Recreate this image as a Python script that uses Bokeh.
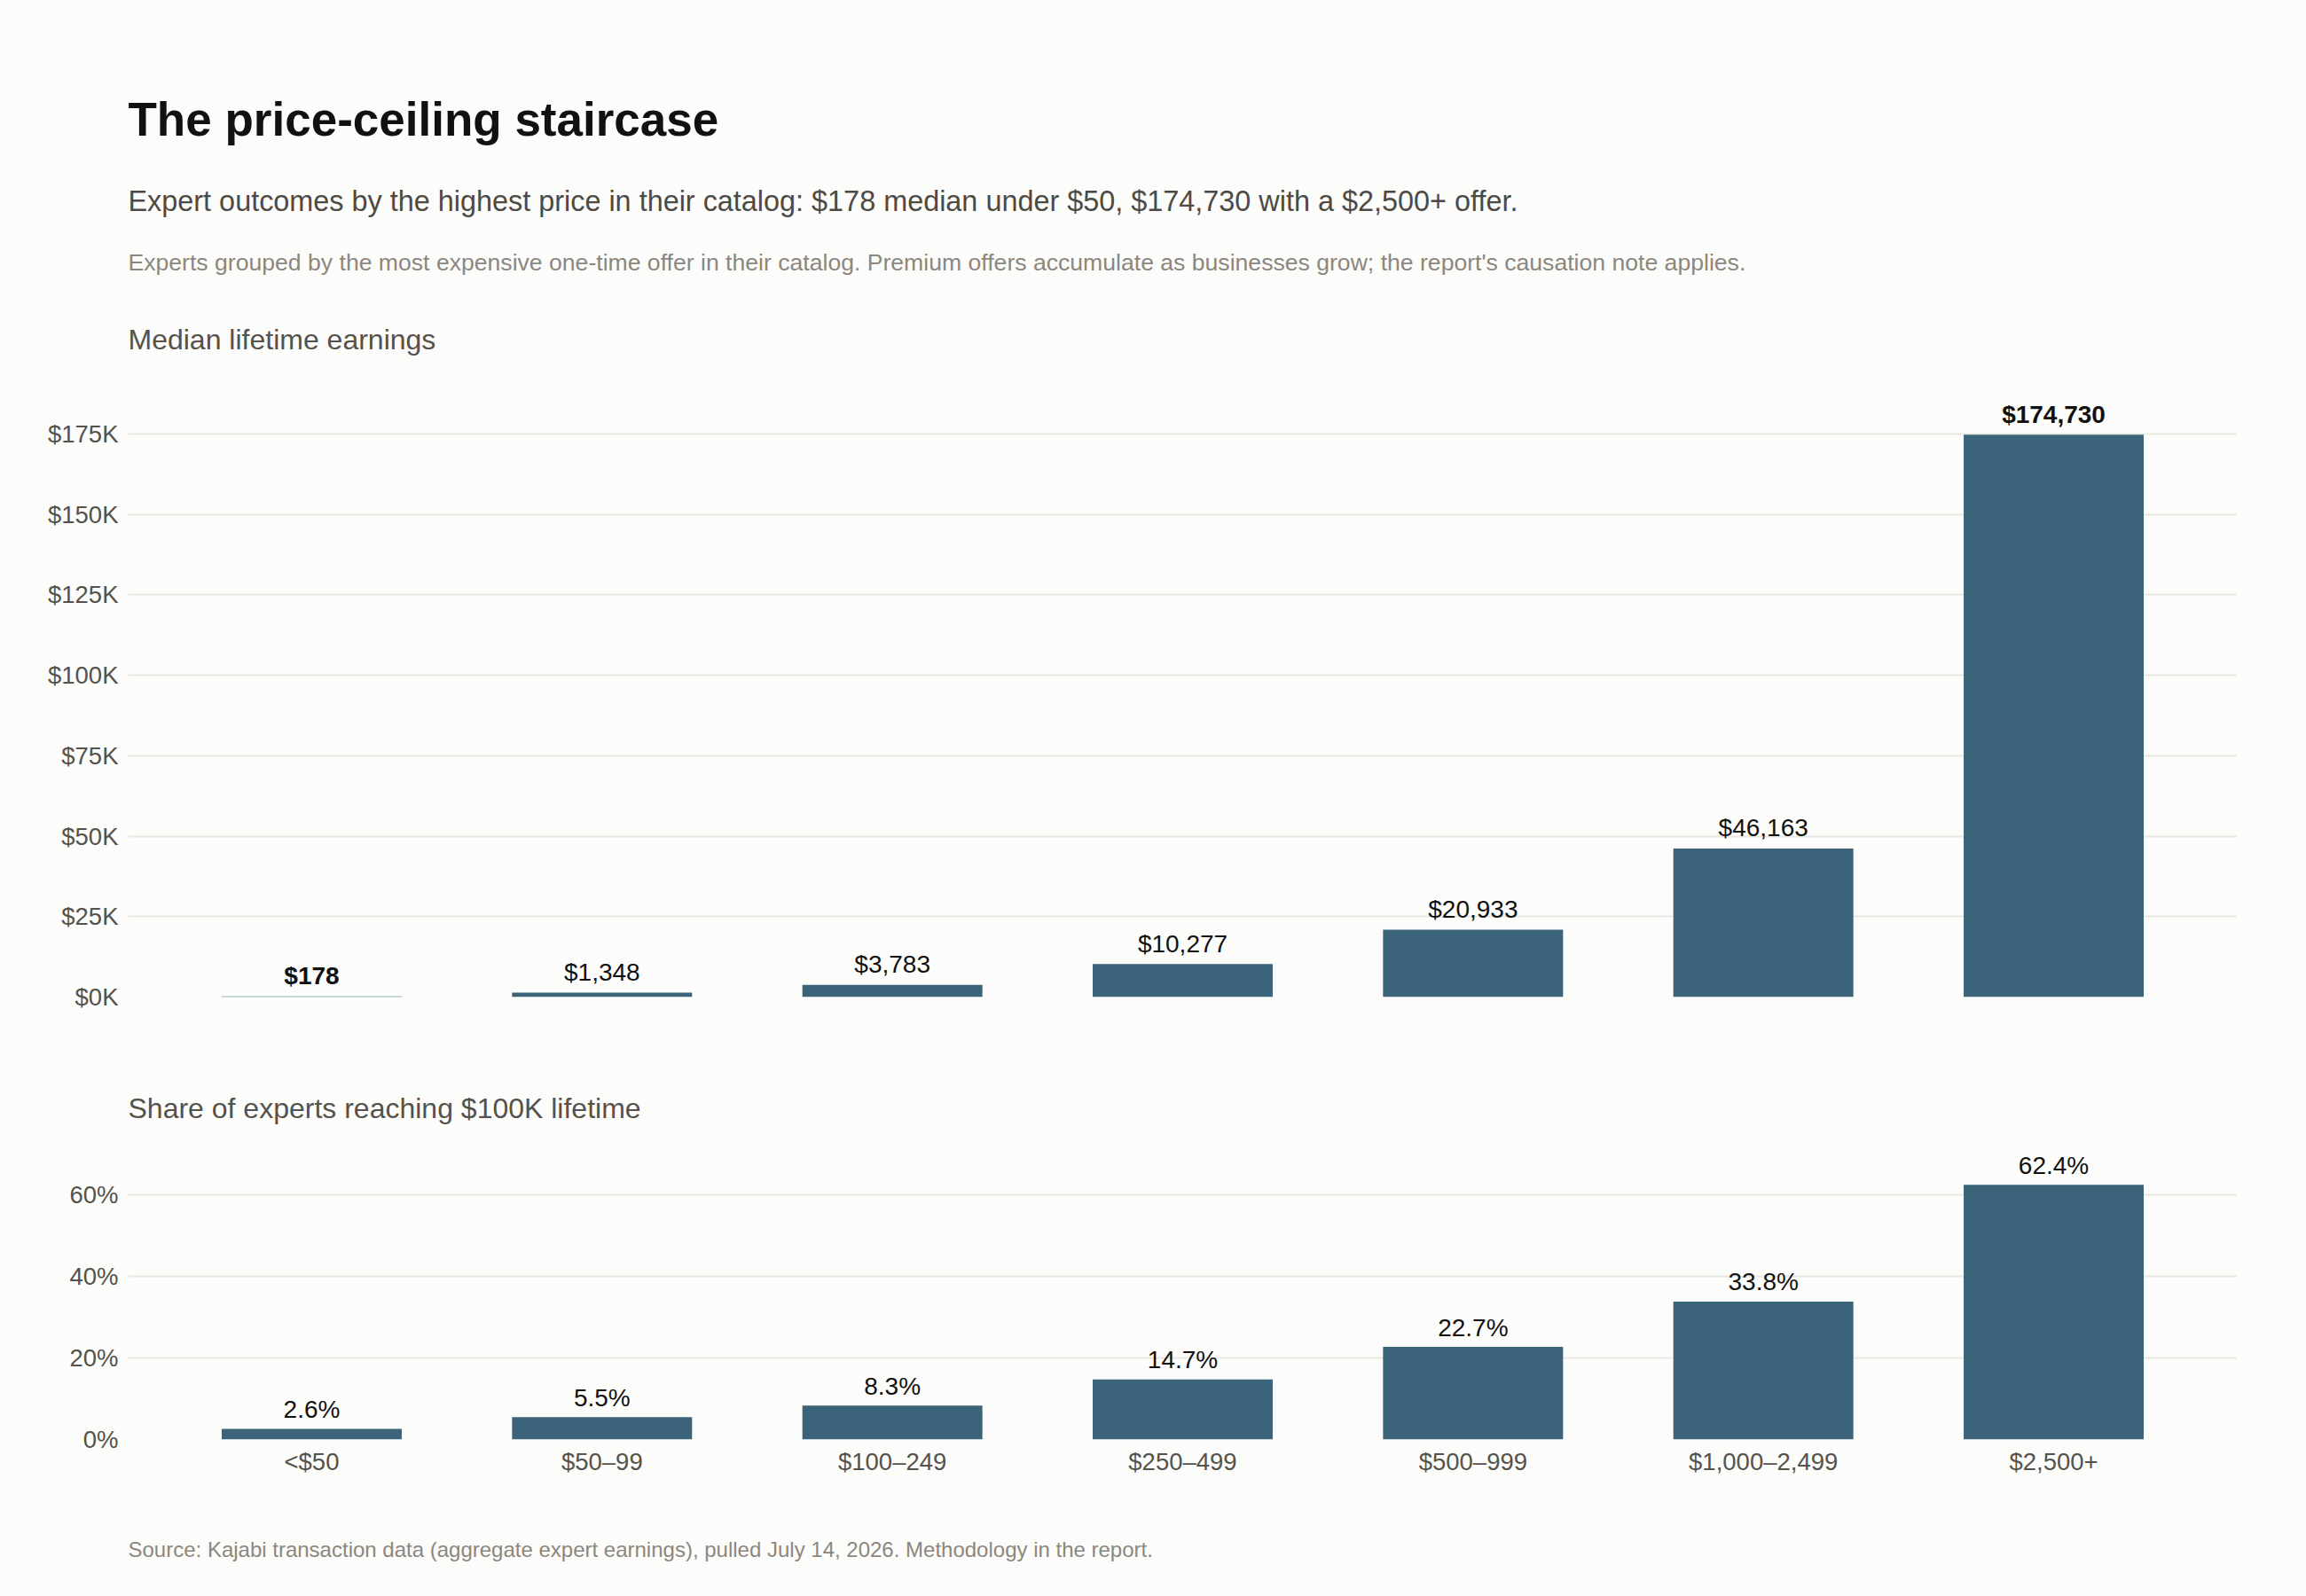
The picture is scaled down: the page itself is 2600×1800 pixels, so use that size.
from bokeh.plotting import figure
from bokeh.models import ColumnDataSource, FactorRange, Range1d, FixedTicker, Title
from bokeh.layouts import column
from bokeh.embed import file_html
from bokeh.resources import INLINE
from bokeh.core.properties import value, field

# ---------------- data ----------------
categories = ["<$50", "$50–99", "$100–249", "$250–499", "$500–999", "$1,000–2,499", "$2,500+"]
median_earnings = [178, 1348, 3783, 10277, 20933, 46163, 174730]
earnings_labels = ["$178", "$1,348", "$3,783", "$10,277", "$20,933", "$46,163", "$174,730"]
earnings_label_style = ["bold", "normal", "normal", "normal", "normal", "normal", "bold"]
share_100k = [2.6, 5.5, 8.3, 14.7, 22.7, 33.8, 62.4]
share_labels = ["2.6%", "5.5%", "8.3%", "14.7%", "22.7%", "33.8%", "62.4%"]
earn_ticks = [0, 25000, 50000, 75000, 100000, 125000, 150000, 175000]
earn_tick_labels = ["$0K", "$25K", "$50K", "$75K", "$100K", "$125K", "$150K", "$175K"]
share_ticks = [0, 20, 40, 60]
share_tick_labels = ["0%", "20%", "40%", "60%"]

TITLE = "The price-ceiling staircase"
SUBTITLE = "Expert outcomes by the highest price in their catalog: $178 median under $50, $174,730 with a $2,500+ offer."
NOTE = ("Experts grouped by the most expensive one-time offer in their catalog. "
        "Premium offers accumulate as businesses grow; the report's causation note applies.")
TOP_LABEL = "Median lifetime earnings"
BOTTOM_LABEL = "Share of experts reaching $100K lifetime"
SOURCE = "Source: Kajabi transaction data (aggregate expert earnings), pulled July 14, 2026. Methodology in the report."

# ---------------- style ----------------
FONT = "Liberation Sans"
BG = "#fcfcfa"
BAR = "#3b6379"
GRID = "#e8e7e2"
TICK_COLOR = "#55524c"
W = 2600

src_top = ColumnDataSource(dict(cat=categories, val=median_earnings, lab=earnings_labels,
                                style=earnings_label_style))
src_bot = ColumnDataSource(dict(cat=categories, val=share_100k, lab=share_labels))


def style_fig(p):
    p.background_fill_color = BG
    p.border_fill_color = BG
    p.outline_line_color = None
    p.xgrid.grid_line_color = None
    p.ygrid.grid_line_color = GRID
    p.ygrid.grid_line_width = 2
    p.min_border_left = 144
    p.min_border_right = 78
    for ax in p.yaxis:
        ax.axis_line_color = None
        ax.major_tick_line_color = None
        ax.minor_tick_line_color = None
        ax.major_tick_out = 0
        ax.major_tick_in = 0
        ax.major_label_standoff = 11
        ax.major_label_text_font = FONT
        ax.major_label_text_font_size = "27.5px"
        ax.major_label_text_color = TICK_COLOR


def add_title(p, text, size, standoff, side="above", color="#111111", style="normal"):
    p.add_layout(Title(text=text, text_font=FONT, text_font_size=size, text_color=color,
                       text_font_style=style, align="left", offset=0, standoff=standoff), side)


xr = FactorRange(*categories, range_padding=0.0378, range_padding_units="percent")

# ---------- top chart ----------
p1 = figure(width=W, height=1140, x_range=xr, y_range=Range1d(0, 187900),
            output_backend="svg", toolbar_location=None, x_axis_location=None, title=None)
style_fig(p1)
p1.min_border_top = 0
p1.min_border_bottom = 16
p1.vbar(x="cat", top="val", width=0.62, source=src_top, color=BAR, line_color=None)
p1.text(x="cat", y="val", text="lab", source=src_top, text_align="center",
        text_baseline="alphabetic", y_offset=-23, text_font=value(FONT),
        text_font_size="28px", text_color="#111111", text_font_style=field("style"))
p1.yaxis.ticker = FixedTicker(ticks=earn_ticks)
p1.yaxis.major_label_overrides = dict(zip(earn_ticks, earn_tick_labels))

add_title(p1, TOP_LABEL, "32px", 82.6, color="#55524c")
add_title(p1, NOTE, "26.6px", 21.8, color="#8c877e")
add_title(p1, SUBTITLE, "32.4px", 45, color="#4d4a45")
add_title(p1, TITLE, "53px", 41, color="#111111", style="bold")
add_title(p1, " ", "1px", 78.7)

# ---------- bottom chart ----------
p2 = figure(width=W, height=660, x_range=xr, y_range=Range1d(0, 69.95),
            output_backend="svg", toolbar_location=None, title=None)
style_fig(p2)
p2.min_border_top = 0
p2.min_border_bottom = 0
p2.vbar(x="cat", top="val", width=0.62, source=src_bot, color=BAR, line_color=None)
p2.text(x="cat", y="val", text="lab", source=src_bot, text_align="center",
        text_baseline="alphabetic", y_offset=-22, text_font=value(FONT),
        text_font_size="28px", text_color="#111111")
p2.yaxis.ticker = FixedTicker(ticks=share_ticks)
p2.yaxis.major_label_overrides = dict(zip(share_ticks, share_tick_labels))
xa = p2.xaxis[0]
xa.axis_line_color = None
xa.major_tick_line_color = None
xa.minor_tick_line_color = None
xa.major_tick_out = 0
xa.major_tick_in = 0
xa.major_label_standoff = 9
xa.major_label_text_font = FONT
xa.major_label_text_font_size = "27.5px"
xa.major_label_text_color = TICK_COLOR

add_title(p2, BOTTOM_LABEL, "32px", 66.6, color="#55524c")
add_title(p2, " ", "1px", 52.8)
add_title(p2, " ", "1px", 22.2, side="below")
add_title(p2, SOURCE, "24px", 80, side="below", color="#8c877e")

layout = column(p1, p2, spacing=0)
layout.background = BG

html = file_html(layout, INLINE, title="The price-ceiling staircase")
html = html.replace("</head>",
                    "<style>html, body { margin: 0 !important; padding: 0 !important; "
                    "background-color: #fcfcfa; overflow: hidden; }</style></head>", 1)
open("out.html", "w").write(html)
